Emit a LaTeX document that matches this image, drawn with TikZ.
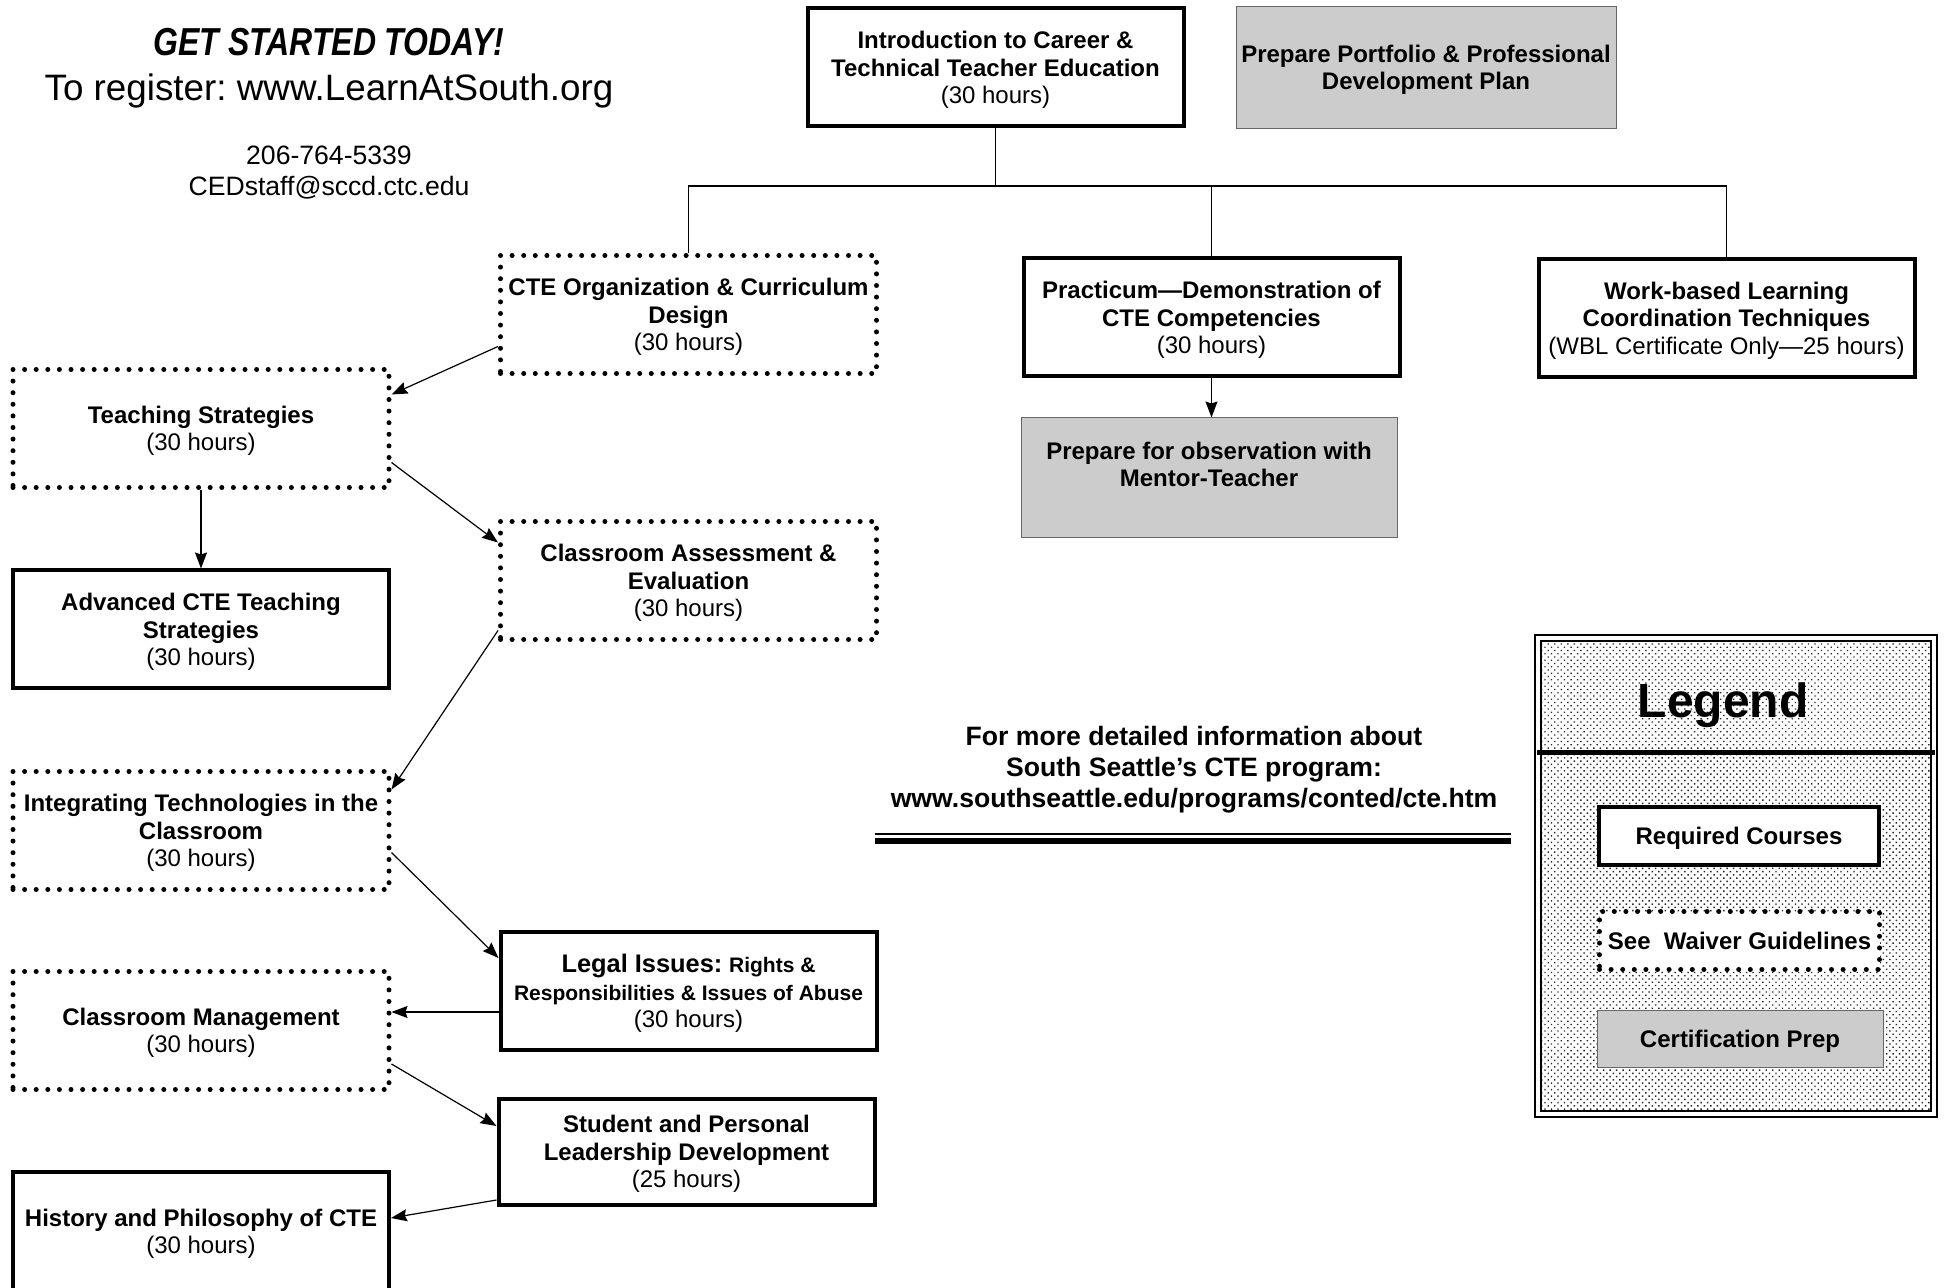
\documentclass[tikz,border=0pt]{standalone}
\usepackage{fontspec}
\setmainfont{Liberation Sans}
\usepackage{graphicx}
\frenchspacing
\usetikzlibrary{positioning,calc,arrows.meta,patterns.meta}

\tikzset{
	course/.style={draw, line width=2pt, minimum width=188pt, minimum height=59pt,
		inner sep=0pt, align=center, text depth=0pt, font=\fontsize{12}{13.7}\selectfont},
	required/.style={course},
	waiver/.style={course, line width=2.5pt, dash pattern=on 0pt off 5.8pt, line cap=round},
	prep/.style={course, line width=0.5pt, draw=black!60, fill=black!20},
	legendbox/.style={draw, line width=0.9pt, double, double distance=2pt,
		minimum width=198pt, minimum height=238pt,
		pattern={Dots[distance=2.3pt, radius=0.5pt, angle=45]}, pattern color=black!85},
	arr/.style={line width=0.6pt, -{Stealth[length=8pt, width=6pt, inset=1pt]}},
	link/.style={line width=0.6pt}
}

\begin{document}
\begin{tikzpicture}[x=0.5pt, y=-0.5pt]
		\useasboundingbox (0,0) rectangle (1944,1288);

		% heading
		\node (gettitle) at (329,42) {\scalebox{0.82}[1]{\fontsize{19.5}{20}\selectfont\bfseries\itshape GET STARTED TODAY!}};
		\node (register) at (329,91) {\fontsize{18.4}{20}\selectfont To register: www.LearnAtSouth.org};
		\node[align=center, font=\fontsize{13.3}{15.5}\selectfont] (contact) at (329,173) {206-764-5339\\CEDstaff@sccd.ctc.edu};

		% top row
		\node[required] (intro) at (995.5,67.5) {\textbf{Introduction to Career \&}\\\textbf{Technical Teacher Education}\\(30 hours)};
		\node[prep, minimum width=190pt, minimum height=61pt] (portfolio) at (1426,67.5) {\textbf{Prepare Portfolio \& Professional}\\\textbf{Development Plan}};

		\node[waiver] (cteorg) at (688.5,314.5) {\textbf{CTE Organization \& Curriculum}\\\textbf{Design}\\(30 hours)};
		\node[required] (practicum) at (1211.5,317.5) {\textbf{Practicum---Demonstration of}\\\textbf{CTE Competencies}\\(30 hours)};
		\node[required] (wbl) at (1726.5,318) {\textbf{Work-based Learning}\\\textbf{Coordination Techniques}\\(WBL Certificate Only---25 hours)};
		\node[prep, minimum height=60pt] (observe) at (1209,478) {\textbf{Prepare for observation with}\\\textbf{Mentor-Teacher}\\\strut};

		% left column
		\node[waiver] (teaching) at (201,428.5) {\textbf{Teaching Strategies}\\(30 hours)};
		\node[required] (advanced) at (201,629.5) {\textbf{Advanced CTE Teaching}\\\textbf{Strategies}\\(30 hours)};
		\node[waiver] (assess) at (688.5,580.5) {\textbf{Classroom Assessment \&}\\\textbf{Evaluation}\\(30 hours)};
		\node[waiver] (integr) at (201,830.5) {\textbf{Integrating Technologies in the}\\\textbf{Classroom}\\(30 hours)};
		\node[required] (legal) at (688.5,991) {{\fontsize{12.7}{13.7}\selectfont\textbf{Legal Issues:}} {\fontsize{10.5}{13.7}\selectfont\textbf{Rights \&}}\\{\fontsize{10.5}{12.5}\selectfont\textbf{Responsibilities \& Issues of Abuse}}\\(30 hours)};
		\node[waiver] (mgmt) at (201,1030.5) {\textbf{Classroom Management}\\(30 hours)};
		\node[required, minimum height=53pt] (student) at (686.5,1151.5) {\textbf{Student and Personal}\\\textbf{Leadership Development}\\(25 hours)};
		\node[required] (history) at (201,1231) {\textbf{History and Philosophy of CTE}\\(30 hours)};

		% tree from the intro course
		\coordinate (bus) at (988,186);
		\draw[link] (intro.south) -- (intro.south |- bus);
		\draw[link] (cteorg.north) -- (cteorg.north |- bus) -- (wbl.north |- bus) -- (wbl.north);
		\draw[link] (practicum.north) -- (practicum.north |- bus);
		\draw[arr] (practicum.south) -- (practicum.south |- observe.north);

		% course sequence
		\draw[arr] ($(cteorg.west)+(0,32)$) -- ($(teaching.east)+(0,-34)$);
		\draw[arr] ($(teaching.east)+(0,34)$) -- ($(assess.west)+(0,-38)$);
		\draw[arr] (teaching.south) -- (advanced.north);
		\draw[arr] ($(assess.west)+(0,50)$) -- ($(integr.east)+(0,-41)$);
		\draw[arr] ($(integr.east)+(0,22)$) -- ($(legal.west)+(0,-33)$);
		\draw[arr] ($(legal.west)+(0,21)$) -- ($(mgmt.east)+(0,-18.5)$);
		\draw[arr] ($(mgmt.east)+(0,33.5)$) -- ($(student.west)+(0,-25.5)$);
		\draw[arr] ($(student.west)+(0,48.5)$) -- ($(history.east)+(0,-13)$);

		% more info
		\node[align=center, font=\fontsize{13.3}{15.5}\selectfont\bfseries] (moreinfo) at (1194,770) {For more detailed information about\\South Seattle’s CTE program:\\www.southseattle.edu/programs/conted/cte.htm};
		\draw[line width=1pt] (875,834) -- (1511,834);
		\draw[line width=3pt] (875,840.5) -- (1511,840.5);

		% legend
		\node[legendbox] (legend) at (1736,876) {};
		\node[font=\fontsize{24}{26}\selectfont\bfseries] (legendttl) at (1723,705) {Legend};
		\draw[line width=2.5pt] ($(legend.north west)+(0,115)$) -- ($(legend.north east)+(0,115)$);
		\node[required, fill=white, minimum width=140pt, minimum height=29pt] (keyreq) at (1739,836) {\textbf{Required Courses}};
		\node[waiver, fill=white, minimum width=140pt, minimum height=29pt] (keywaiver) at (1739.5,940.5) {\textbf{See~ Waiver Guidelines}};
		\node[prep, minimum width=143pt, minimum height=28.5pt] (keyprep) at (1740,1038.5) {\textbf{Certification Prep}};
	\end{tikzpicture}
\end{document}
